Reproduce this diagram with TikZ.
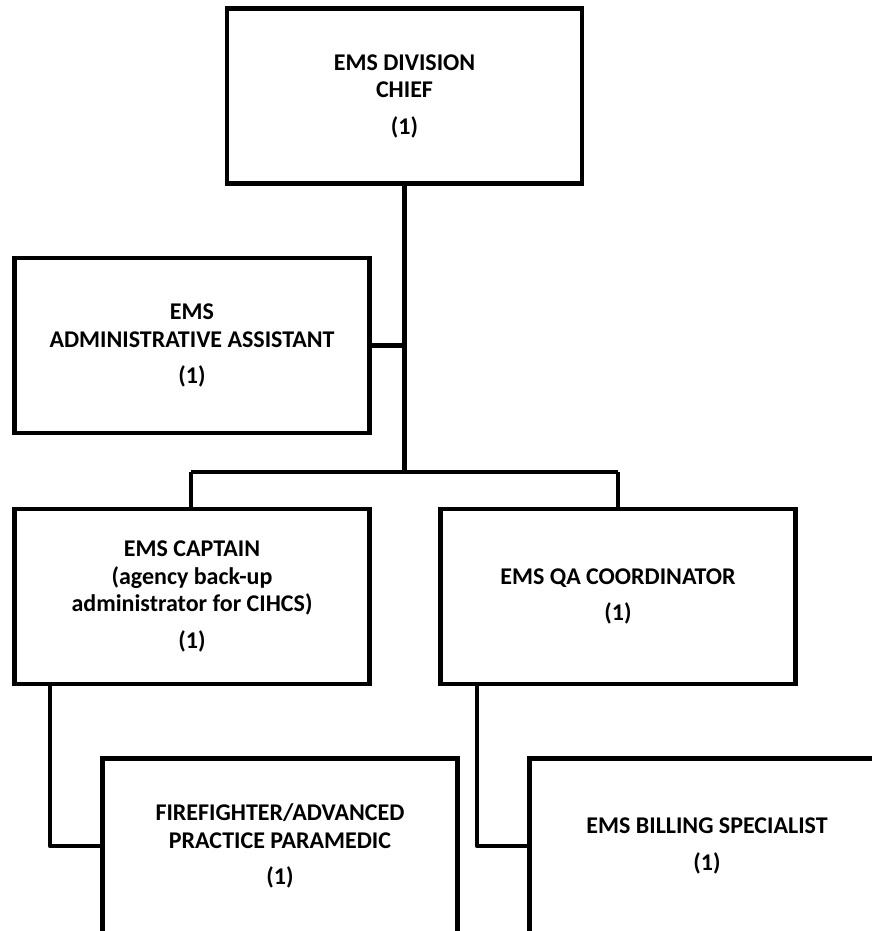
\documentclass[tikz,border=0pt]{standalone}
\usepackage{fontspec}
\setmainfont{Carlito}
\begin{document}
\begin{tikzpicture}[x=1pt,y=1pt,
  box/.style={draw=black,line width=4.5pt,rectangle,minimum width=355pt,minimum height=175pt,
    align=center,font=\fontsize{24}{27.5}\selectfont\bfseries,inner sep=0pt},
  conn/.style={draw=black,line width=4.5pt,line join=round}]
\useasboundingbox (0,0) rectangle (872,931);
\clip (0,0) rectangle (872,931);
\node[box] (chief) at (404.5,835) {EMS DIVISION\\CHIEF\\[9pt](1)};
\node[box] (admin) at (192,585.5) {EMS\\ADMINISTRATIVE ASSISTANT\\[9pt](1)};
\node[box] (capt) at (192,334.5) {EMS CAPTAIN\\(agency back-up\\administrator for CIHCS)\\[9pt](1)};
\node[box] (qa) at (618,334.5) {EMS QA COORDINATOR\\[9pt](1)};
\node[box] (ff) at (280,85) {FIREFIGHTER/ADVANCED\\PRACTICE PARAMEDIC\\[9pt](1)};
\node[box] (bill) at (707,85) {EMS BILLING SPECIALIST\\[9pt](1)};
\coordinate (trunk) at (404.5,459);
\coordinate (barl) at (191,459);
\coordinate (barr) at (618,459);
\coordinate (adminj) at (404.5,585.5);
\coordinate (capd) at (50,85);
\coordinate (qad) at (477,85);
\draw[conn] (chief.south) -- (trunk);
\draw[conn] (admin.east) -- (adminj);
\draw[conn] (barl) -- (barr);
\draw[conn] (barl) -- (barl |- capt.north);
\draw[conn] (barr) -- (barr |- qa.north);
\draw[conn] (capd |- capt.south) -- (capd) -- (ff.west);
\draw[conn] (qad |- qa.south) -- (qad) -- (bill.west);
\end{tikzpicture}
\end{document}
